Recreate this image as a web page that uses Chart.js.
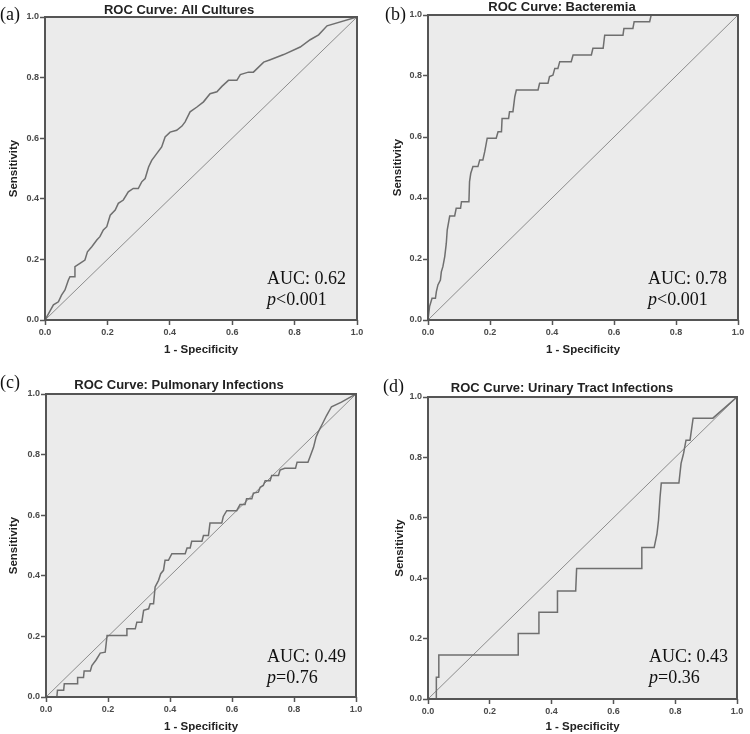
<!DOCTYPE html>
<html>
<head>
<meta charset="utf-8">
<script src="https://cdn.jsdelivr.net/npm/chart.js@4.4.1/dist/chart.umd.min.js"></script>
<style>
  html, body { margin: 0; padding: 0; background: #ffffff; }
  #wrap { position: relative; width: 750px; height: 734px; overflow: hidden; }
  canvas { position: absolute; }
</style>
</head>
<body>
<div id="wrap">
  <canvas id="ca" width="375" height="367"></canvas>
  <canvas id="cb" width="375" height="367"></canvas>
  <canvas id="cc" width="375" height="367"></canvas>
  <canvas id="cd" width="375" height="367"></canvas>
</div>
<script>
// ---------- DATA ----------
const tickValues = [0, 0.2, 0.4, 0.6, 0.8, 1.0];
const panelLetters = ["(a)", "(b)", "(c)", "(d)"];
const panelTitles = ["ROC Curve: All Cultures", "ROC Curve: Bacteremia", "ROC Curve: Pulmonary Infections", "ROC Curve: Urinary Tract Infections"];
const aucLabels = ["AUC: 0.62", "AUC: 0.78", "AUC: 0.49", "AUC: 0.43"];
const pLabels = ["<0.001", "<0.001", "=0.76", "=0.36"];
const xAxisTitle = "1 - Specificity";
const yAxisTitle = "Sensitivity";

const refX = [0, 1];
const refY = [0, 1];

// (a) All Cultures
const aFpr = [0, .027, .043, .053, .064, .075, .080, .096, .096, .112, .128, .136, .150, .166, .176, .187, .198, .209, .225, .235, .251, .267, .283, .299, .310, .321, .332, .342, .358, .374, .385, .401, .422, .439, .449, .465, .487, .508, .529, .551, .567, .588, .615, .626, .652, .668, .701, .722, .765, .818, .850, .877, .904, 1];
const aTpr = [0, .05, .06, .082, .099, .132, .143, .143, .176, .187, .198, .225, .242, .264, .275, .297, .308, .346, .363, .385, .396, .423, .434, .434, .456, .467, .505, .527, .549, .571, .604, .62, .626, .64, .654, .687, .703, .72, .747, .753, .771, .791, .791, .81, .818, .818, .851, .859, .876, .901, .925, .941, .971, 1];

// (b) Bacteremia
const bFpr = [0, .005, .013, .024, .027, .032, .04, .043, .048, .054, .059, .062, .07, .086, .091, .105, .108, .132, .134, .138, .145, .161, .167, .177, .183, .191, .22, .226, .237, .239, .26, .263, .274, .28, .285, .355, .36, .387, .392, .403, .409, .419, .425, .462, .468, .527, .532, .565, .57, .629, .632, .661, .665, .715, .72, 1];
const bTpr = [0, .044, .071, .071, .093, .115, .131, .158, .175, .208, .251, .295, .341, .341, .366, .366, .388, .388, .454, .481, .503, .503, .525, .525, .552, .596, .596, .617, .617, .661, .661, .683, .683, .732, .754, .754, .776, .776, .798, .803, .825, .825, .847, .847, .869, .869, .891, .891, .934, .934, .956, .956, .978, .978, 1, 1];

// (c) Pulmonary Infections
const cFpr = [0, .035, .037, .057, .059, .1, .102, .121, .123, .143, .148, .162, .175, .191, .197, .259, .261, .288, .293, .309, .315, .331, .336, .347, .352, .363, .37, .379, .384, .395, .406, .449, .455, .465, .47, .503, .508, .524, .529, .567, .572, .583, .615, .626, .642, .647, .664, .669, .685, .691, .701, .707, .723, .728, .75, .755, .77, .805, .81, .845, .852, .863, .871, .878, .889, .905, .921, .953, 1];
const cTpr = [0, 0, .022, .022, .044, .044, .064, .064, .086, .086, .104, .123, .145, .148, .203, .203, .225, .225, .247, .247, .286, .291, .308, .308, .363, .385, .407, .418, .451, .451, .473, .473, .492, .492, .514, .514, .533, .533, .574, .574, .596, .615, .615, .635, .635, .654, .654, .673, .676, .692, .698, .714, .714, .731, .731, .749, .755, .755, .775, .775, .794, .824, .857, .874, .896, .929, .958, .973, 1];

// (d) Urinary Tract Infections
const dFpr = [0, .027, .027, .035, .035, .292, .292, .359, .359, .419, .419, .478, .481, .69, .692, .732, .741, .746, .751, .755, .812, .819, .827, .835, .848, .858, .922, 1];
const dTpr = [0, 0, .072, .072, .146, .146, .217, .217, .287, .287, .358, .358, .432, .432, .502, .502, .547, .592, .669, .715, .715, .78, .813, .857, .857, .93, .93, 1];

// ---------- LAYOUT ----------
const SANS = '"Liberation Sans", Arial, Helvetica, sans-serif';
const SERIF = '"Liberation Serif", "Times New Roman", Times, serif';

const panels = [
  { id: 'ca', ox: 0,   oy: 0,   pad: {left: 0, right: 18, top: 17, bottom: 0}, xh: 47, xtPad: 10, ytPad: 7,
    fpr: aFpr, tpr: aTpr, titleX: 179, titleY: 10, letterX: 0, letterY: 15, aucX: 267, aucY: 284, pY: 305 },
  { id: 'cb', ox: 375, oy: 0,   pad: {left: 8, right: 12, top: 15, bottom: 0}, xh: 47, xtPad: 10, ytPad: 8,
    fpr: bFpr, tpr: bTpr, titleX: 187, titleY: 7, letterX: 10, letterY: 15, aucX: 273, aucY: 284, pY: 305 },
  { id: 'cc', ox: 0,   oy: 367, pad: {left: 1, right: 19, top: 27, bottom: 0}, xh: 37, xtPad: 0, ytPad: 6,
    fpr: cFpr, tpr: cTpr, titleX: 179, titleY: 18, letterX: 0, letterY: 16, aucX: 267, aucY: 295, pY: 316 },
  { id: 'cd', ox: 375, oy: 367, pad: {left: 8, right: 13, top: 30, bottom: 0}, xh: 35, xtPad: 0, ytPad: 10,
    fpr: dFpr, tpr: dTpr, titleX: 187, titleY: 21, letterX: 8, letterY: 20, aucX: 274, aucY: 295, pY: 316 }
];

function toPoints(xs, ys) { return xs.map((x, i) => ({ x: x, y: ys[i] })); }

const decorPlugin = {
  id: 'decor',
  beforeDatasetsDraw(chart) {
    const a = chart.chartArea, ctx = chart.ctx;
    ctx.save();
    ctx.fillStyle = '#ebebeb';
    ctx.fillRect(a.left, a.top, a.right - a.left, a.bottom - a.top);
    ctx.restore();
  },
  afterDraw(chart) {
    const a = chart.chartArea, ctx = chart.ctx;
    const p = chart.options.plugins.decor;
    ctx.save();
    ctx.strokeStyle = '#555555';
    ctx.lineWidth = 2;
    ctx.strokeRect(a.left, a.top, a.right - a.left, a.bottom - a.top);
    // title
    ctx.fillStyle = '#222222';
    ctx.font = 'bold 13px ' + SANS;
    ctx.textAlign = 'center';
    ctx.textBaseline = 'middle';
    ctx.fillText(p.title, p.titleX, p.titleY);
    // panel letter
    ctx.font = '18px ' + SERIF;
    ctx.textAlign = 'left';
    ctx.fillStyle = '#111111';
    ctx.fillText(p.letter, p.letterX, p.letterY);
    // AUC text
    ctx.textBaseline = 'alphabetic';
    ctx.font = '18px ' + SERIF;
    ctx.fillText(p.auc, p.aucX, p.aucY);
    ctx.font = 'italic 18px ' + SERIF;
    ctx.fillText('p', p.aucX, p.pY);
    const w = ctx.measureText('p').width;
    ctx.font = '18px ' + SERIF;
    ctx.fillText(p.pval, p.aucX + w, p.pY);
    ctx.restore();
  }
};

panels.forEach((pn, i) => {
  const cv = document.getElementById(pn.id);
  cv.style.left = pn.ox + 'px';
  cv.style.top = pn.oy + 'px';
  new Chart(cv.getContext('2d'), {
    type: 'scatter',
    data: {
      datasets: [
        { data: toPoints(pn.fpr, pn.tpr), showLine: true, borderColor: '#6f6f6f', borderWidth: 1.5,
          pointRadius: 0, fill: false, tension: 0 },
        { data: toPoints(refX, refY), showLine: true, borderColor: '#8c8c8c', borderWidth: 1,
          pointRadius: 0, fill: false, tension: 0 }
      ]
    },
    options: {
      responsive: false,
      animation: false,
      devicePixelRatio: 1,
      layout: { padding: pn.pad },
      plugins: {
        legend: { display: false },
        tooltip: { enabled: false },
        title: { display: false },
        decor: { title: panelTitles[i], titleX: pn.titleX, titleY: pn.titleY,
                 letter: panelLetters[i], letterX: pn.letterX, letterY: pn.letterY,
                 auc: aucLabels[i], pval: pLabels[i], aucX: pn.aucX, aucY: pn.aucY, pY: pn.pY }
      },
      scales: {
        x: {
          type: 'linear', min: 0, max: 1,
          afterBuildTicks(scale) { scale.ticks = tickValues.map(v => ({ value: v })); },
          afterFit(scale) { scale.height = pn.xh; },
          ticks: { callback: v => v.toFixed(1), font: { family: SANS, size: 9, weight: 'bold' }, color: '#4a4a4a', padding: 2, maxRotation: 0 },
          grid: { display: true, drawOnChartArea: false, drawTicks: true, tickLength: 5, tickWidth: 1.5, tickColor: '#555555' },
          border: { display: false },
          title: { display: true, text: xAxisTitle, font: { family: SANS, size: 11.5, weight: 'bold' }, color: '#222222',
                   padding: { top: 0, bottom: pn.xtPad } }
        },
        y: {
          type: 'linear', min: 0, max: 1,
          afterBuildTicks(scale) { scale.ticks = tickValues.map(v => ({ value: v })); },
          afterFit(scale) { scale.width = 45; },
          ticks: { callback: v => v.toFixed(1), font: { family: SANS, size: 9, weight: 'bold' }, color: '#4a4a4a', padding: 1 },
          grid: { display: true, drawOnChartArea: false, drawTicks: true, tickLength: 5, tickWidth: 1.5, tickColor: '#555555' },
          border: { display: false },
          title: { display: true, text: yAxisTitle, font: { family: SANS, size: 11.5, weight: 'bold' }, color: '#222222',
                   padding: { top: pn.ytPad, bottom: 0 } }
        }
      }
    },
    plugins: [decorPlugin]
  });
});
</script>
</body>
</html>
